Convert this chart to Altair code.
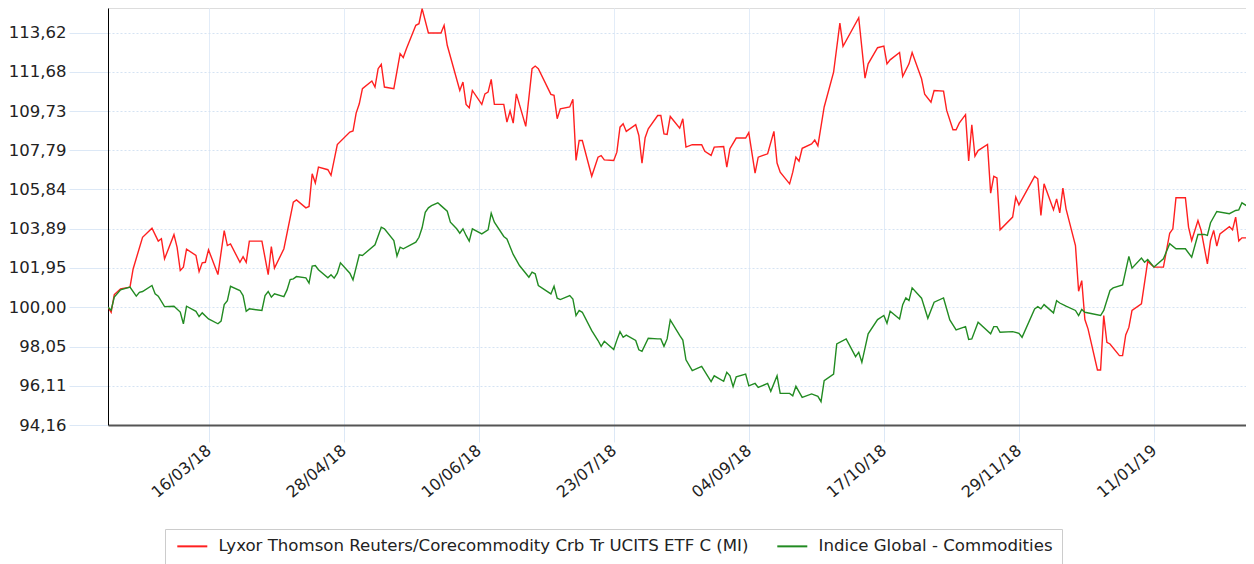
import altair as alt
import pandas as pd

# Series names
red_name = "Lyxor Thomson Reuters/Corecommodity Crb Tr UCITS ETF C (MI)"
green_name = "Indice Global - Commodities"

# Days since 2018-02-12 and values (base 100)
red_days = [0, 1, 2, 4, 7, 8, 11, 14, 16, 17, 18, 21, 22, 23, 24, 25, 28, 29, 30, 31, 32, 35, 37, 38, 39,
            42, 43, 44, 45, 49, 51, 52, 53, 56, 59, 60, 63, 64, 65, 66, 67, 70, 71, 73, 77, 78, 79, 80, 81,
            84, 85, 86, 87, 88, 91, 93, 94, 95, 98, 99, 100, 102, 106, 107, 108, 112, 113, 114, 115, 116,
            119, 120, 121, 122, 123, 126, 127, 128, 129, 130, 133, 135, 136, 137, 141, 142, 143, 144, 147,
            148, 149, 150, 151, 154, 156, 157, 158, 161, 162, 163, 164, 165, 168, 169, 170, 171, 172, 175,
            176, 177, 178, 179, 182, 183, 184, 186, 189, 190, 192, 193, 196, 197, 198, 200, 203, 204, 206,
            207, 210, 212, 213, 214, 217, 218, 219, 220, 221, 224, 225, 226, 228, 231, 233, 234, 239, 241,
            242, 245, 247, 248, 249, 252, 253, 255, 256, 259, 260, 262, 263, 266, 267, 269, 270, 271, 273,
            274, 275, 276, 277, 280, 281, 282, 283, 284, 288, 289, 290, 295, 296, 297, 298, 301, 302, 303,
            304, 305, 308, 309, 310, 311, 312, 315, 316, 317, 318, 319, 322, 323, 324, 325, 326, 329, 331,
            333, 336, 338, 339, 340, 343, 344, 345, 347, 348, 350, 351, 352, 353, 354, 357, 358, 359, 360,
            361, 364, 365]
red_vals = [100.0, 99.75, 100.63, 100.91, 101.0, 101.9, 103.47, 103.92, 103.28, 103.4, 102.4, 103.6, 102.97,
            101.82, 101.99, 102.88, 102.57, 101.77, 102.2, 102.23, 102.85, 101.62, 103.8, 103.06, 103.14,
            102.23, 102.51, 102.23, 103.28, 103.28, 101.62, 103.01, 101.94, 102.9, 105.21, 105.32, 104.93,
            105.0, 106.62, 106.16, 106.95, 106.82, 106.54, 108.07, 108.69, 108.74, 109.63, 110.09, 110.84,
            111.22, 110.92, 111.83, 112.05, 110.92, 110.84, 112.58, 112.38, 112.82, 113.98, 114.06, 114.81,
            113.6, 113.6, 113.98, 112.99, 110.75, 111.17, 110.06, 109.89, 110.75, 110.06, 110.58, 110.67,
            111.3, 110.06, 110.06, 109.18, 109.73, 109.13, 110.58, 108.97, 111.83, 111.96, 111.83, 110.56,
            110.51, 109.35, 109.84, 109.93, 110.31, 107.28, 108.27, 108.27, 106.5, 107.44, 107.52, 107.31,
            107.28, 107.69, 108.93, 109.1, 108.72, 109.05, 108.52, 107.15, 108.41, 108.85, 109.51, 109.51,
            108.6, 108.57, 109.46, 108.88, 109.35, 107.94, 108.06, 108.06, 107.73, 107.53, 107.94, 107.97,
            106.95, 107.86, 108.39, 108.39, 108.66, 106.65, 107.44, 107.61, 108.72, 107.15, 106.7, 106.12,
            106.7, 107.44, 107.24, 107.88, 108.1, 108.29, 108.0, 109.93, 111.66, 114.09, 112.94, 114.36,
            111.36, 112.07, 112.87, 112.95, 112.07, 112.27, 112.63, 111.45, 112.07, 112.63, 111.33, 110.56,
            110.17, 110.75, 110.72, 109.76, 108.8, 108.8, 109.13, 109.55, 107.25, 109.05, 107.49, 107.77,
            108.07, 105.66, 106.49, 106.41, 103.84, 104.47, 105.46, 105.08, 106.49, 106.37, 104.55, 106.12,
            104.83, 105.37, 104.68, 105.91, 104.88, 103.06, 100.79, 101.32, 99.39, 98.93, 96.89, 96.89,
            99.59, 98.26, 98.18, 97.6, 97.6, 98.63, 99.0, 99.84, 100.17, 102.27, 101.99, 101.99, 103.67,
            103.89, 105.43, 105.43, 103.97, 103.31, 104.3, 103.81, 102.15, 103.31, 103.81, 103.03, 103.64,
            104.0, 103.84, 104.47, 103.28, 103.44, 103.44, 103.97]

green_days = [0, 1, 2, 4, 7, 9, 10, 11, 14, 15, 16, 18, 21, 23, 24, 25, 28, 29, 30, 32, 35, 36, 37, 38, 39,
              42, 43, 44, 45, 49, 50, 51, 52, 53, 56, 57, 58, 59, 60, 63, 64, 65, 66, 67, 70, 71, 72, 73, 74,
              77, 78, 80, 81, 85, 87, 88, 91, 92, 93, 94, 98, 99, 100, 101, 102, 103, 105, 106, 108, 109,
              111, 112, 113, 114, 115, 116, 119, 121, 122, 123, 126, 127, 129, 131, 134, 135, 136, 137, 141,
              142, 143, 144, 147, 148, 149, 150, 151, 154, 156, 157, 158, 161, 162, 163, 164, 165, 168, 169,
              170, 172, 175, 176, 177, 178, 179, 182, 183, 184, 186, 189, 192, 193, 196, 197, 198, 199, 200,
              203, 204, 206, 207, 210, 211, 213, 214, 217, 218, 219, 221, 224, 226, 227, 228, 231, 232, 235,
              238, 239, 240, 242, 245, 247, 248, 249, 252, 253, 254, 255, 256, 259, 261, 263, 266, 268, 270,
              273, 274, 275, 277, 281, 282, 283, 284, 288, 290, 291, 295, 296, 297, 298, 301, 302, 303, 305,
              308, 309, 310, 311, 316, 317, 319, 320, 323, 325, 326, 329, 330, 331, 333, 336, 338, 340, 343,
              345, 347, 349, 350, 351, 353, 357, 359, 360, 361, 364, 365]
green_vals = [100.0, 99.85, 100.5, 100.86, 101.0, 100.55, 100.74, 100.78, 101.08, 100.67, 100.55, 100.03,
              100.05, 99.76, 99.18, 100.05, 99.8, 99.54, 99.72, 99.42, 99.18, 99.31, 100.13, 100.33, 101.04,
              100.83, 100.58, 99.8, 99.92, 99.84, 100.58, 100.78, 100.5, 100.67, 100.53, 100.86, 101.37,
              101.41, 101.52, 101.46, 101.2, 102.04, 102.07, 101.86, 101.46, 101.61, 101.44, 101.69, 102.2,
              101.69, 101.36, 102.6, 102.57, 103.1, 103.97, 103.89, 103.31, 102.54, 102.98, 102.9, 103.23,
              103.47, 103.94, 104.71, 104.93, 105.04, 105.18, 105.04, 104.76, 104.22, 103.89, 103.67, 103.89,
              103.56, 103.28, 103.89, 103.64, 103.84, 104.66, 104.22, 103.51, 103.39, 102.62, 102.07, 101.49,
              101.74, 101.66, 101.08, 100.66, 101.04, 100.45, 100.38, 100.58, 100.41, 99.59, 99.84, 99.75,
              98.84, 98.35, 98.06, 98.31, 97.9, 98.37, 98.79, 98.51, 98.62, 98.35, 97.89, 97.81, 98.46,
              98.43, 98.43, 98.06, 98.43, 99.37, 98.6, 98.37, 97.39, 96.86, 97.07, 96.31, 96.6, 96.33, 96.77,
              96.6, 96.06, 96.55, 96.68, 96.1, 96.22, 96.02, 96.22, 95.83, 96.6, 95.73, 95.73, 95.61, 96.08,
              95.53, 95.7, 95.58, 95.32, 96.36, 96.68, 98.18, 98.43, 97.55, 97.77, 97.27, 98.68, 99.39, 99.59,
              99.2, 99.8, 99.42, 100.13, 100.46, 100.33, 100.96, 100.45, 99.45, 100.25, 100.46, 99.37, 98.88,
              99.04, 98.4, 98.43, 99.26, 98.68, 99.04, 99.04, 98.76, 98.79, 98.71, 98.51, 99.92, 100.03,
              99.92, 100.13, 99.72, 100.33, 100.21, 100.05, 99.84, 99.59, 99.89, 99.75, 99.59, 99.84, 100.83,
              100.96, 101.11, 102.52, 101.94, 102.44, 102.23, 102.37, 101.99, 102.4, 103.15, 102.9, 102.9,
              102.48, 103.61, 103.61, 103.56, 104.19, 104.75, 104.64, 104.8, 104.83, 105.18, 104.88, 105.18]

y_ticks = [94.16, 96.11, 98.05, 100.00, 101.95, 103.89, 105.84, 107.79, 109.73, 111.68, 113.62]
x_ticks = [(2018, 3, 16), (2018, 4, 28), (2018, 6, 10), (2018, 7, 23),
           (2018, 9, 4), (2018, 10, 17), (2018, 11, 29), (2019, 1, 11)]

start = pd.Timestamp("2018-02-12")


def frame(days, vals, name):
    d = pd.DataFrame({"day": days, "value": vals})
    d["date"] = (start + pd.to_timedelta(d["day"], unit="D")).dt.strftime("%Y-%m-%d")
    d["series"] = name
    return d


df = pd.concat([frame(red_days, red_vals, red_name), frame(green_days, green_vals, green_name)],
               ignore_index=True)

FONT = "DejaVu Sans"
TXT = "#222222"

x_enc = alt.X(
    "date:T",
    scale=alt.Scale(type="utc",
                    domain=[alt.DateTime(year=2018, month=2, date=12, utc=True),
                            alt.DateTime(year=2019, month=2, date=9, hours=7, utc=True)]),
    axis=alt.Axis(
        values=[alt.DateTime(year=y, month=m, date=d, utc=True) for (y, m, d) in x_ticks],
        labelExpr="utcFormat(datum.value, '%d/%m/%y')",
        labelAngle=-40, labelAlign="right", labelBaseline="middle",
        labelPadding=6, labelFontSize=16, labelColor=TXT, labelFont=FONT,
        tickSize=17, tickColor="#dce8f6", tickWidth=1,
        grid=True, gridColor="#e2ecf8", gridWidth=1,
        domainColor="#555555", domainWidth=2, title=None,
    ),
)

y_enc = alt.Y(
    "value:Q",
    scale=alt.Scale(domain=[94.16, 114.84], nice=False, zero=False),
    axis=alt.Axis(
        values=y_ticks,
        labelExpr="replace(format(datum.value, '.2f'), '.', ',')",
        labelFontSize=16.5, labelColor=TXT, labelFont=FONT, labelPadding=3,
        tickSize=39, tickColor="#dce8f6", tickWidth=1,
        grid=True, gridColor="#d5e3f3", gridDash=[2, 2], gridWidth=1,
        domainColor="#000000", domainWidth=1, title=None,
    ),
)

color_enc = alt.Color(
    "series:N",
    scale=alt.Scale(domain=[red_name, green_name], range=["#ff2020", "#228b22"]),
    legend=alt.Legend(
        title=None, orient="none", legendX=57, legendY=521, direction="horizontal",
        symbolType="M-1,0H5", symbolSize=100, symbolStrokeWidth=2,
        labelFontSize=16.6, labelFont=FONT, labelColor=TXT, labelLimit=900,
        labelOffset=28, columnPadding=24, padding=9,
        strokeColor="#cccccc", fillColor="white",
    ),
)

chart = alt.Chart(df).mark_line(strokeWidth=1.4, clip=True).encode(
    x=x_enc, y=y_enc, color=color_enc, detail="series:N", order="day:Q"
).properties(
    width=1138, height=417,
    autosize=alt.AutoSizeParams(type="none"),
    padding={"left": 100, "top": 0, "right": 0, "bottom": 139},
).configure_view(stroke=None).configure(font=FONT)

chart.save("out.html", embed_options={"renderer": "svg", "actions": False})
